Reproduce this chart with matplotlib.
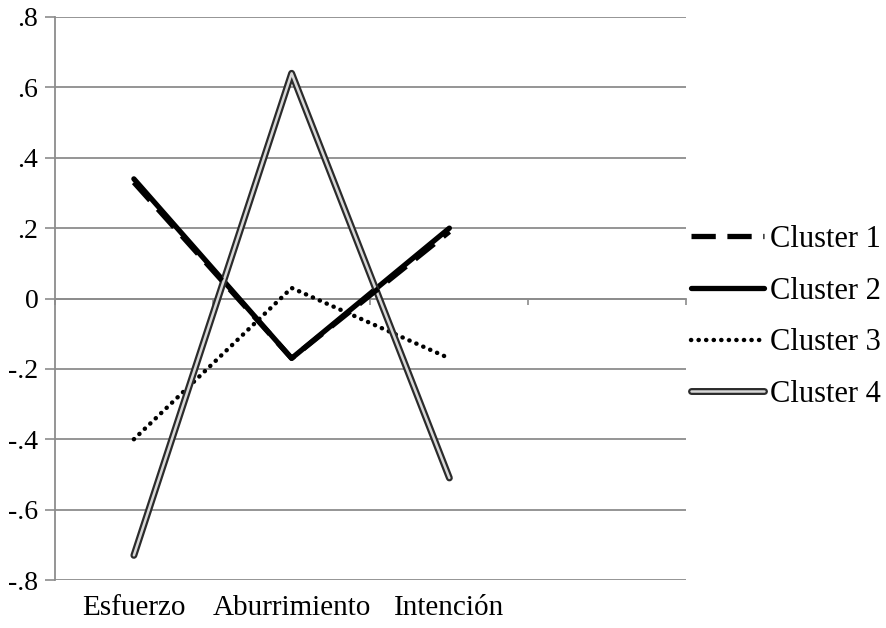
import matplotlib
matplotlib.use("Agg")
import matplotlib.pyplot as plt
import matplotlib.patheffects as pe
from matplotlib.transforms import blended_transform_factory

categories = ["Esfuerzo", "Aburrimiento", "Intención"]
cluster1 = [0.33, -0.17, 0.19]
cluster2 = [0.34, -0.17, 0.20]
cluster3 = [-0.40, 0.03, -0.17]
cluster4 = [-0.73, 0.64, -0.51]
yticks = [0.8, 0.6, 0.4, 0.2, 0.0, -0.2, -0.4, -0.6, -0.8]
ytick_labels = [".8", ".6", ".4", ".2", "0", "-.2", "-.4", "-.6", "-.8"]
n_slots = 4

plt.rcParams['font.family'] = ['Liberation Serif', 'DejaVu Serif']

fig = plt.figure(figsize=(8.86, 6.28), dpi=100)
ax = fig.add_axes([55/886, 1-580/628, (686-55)/886, (580-17)/628])

grid_c = "#8c8c8c"
ax.set_ylim(-0.8, 0.8)
ax.set_xlim(-0.5, n_slots - 0.5)
ax.set_yticks(yticks)
ax.set_yticklabels(ytick_labels, fontsize=20)
ax.yaxis.grid(True, color=grid_c, linewidth=1.3)
ax.set_axisbelow(True)
ax.tick_params(axis='y', direction='out', length=7, width=1.2, color=grid_c, pad=5)

for s in ['top', 'right']:
    ax.spines[s].set_visible(False)
ax.spines['left'].set_color(grid_c)
ax.spines['left'].set_linewidth(1.3)
ax.spines['bottom'].set_position(('data', 0))
ax.spines['bottom'].set_color(grid_c)
ax.spines['bottom'].set_linewidth(1.3)
ax.set_xticks([i - 0.5 for i in range(n_slots + 1)])
ax.set_xticklabels([""] * (n_slots + 1))
ax.tick_params(axis='x', direction='out', length=4, width=1.2, color=grid_c)

x = list(range(len(categories)))
trans = blended_transform_factory(ax.transData, ax.transAxes)
for xi, lab in zip(x, categories):
    ax.text(xi, -0.05, lab, transform=trans, ha='center', va='center', fontsize=21)

ax.plot(x, cluster1, color='black', linewidth=3.8, linestyle=(0, (4.6, 2.2)),
        dash_capstyle='butt', label="Cluster 1", zorder=4)
ax.plot(x, cluster2, color='black', linewidth=3.8, solid_capstyle='round',
        label="Cluster 2", zorder=3)
ax.plot(x, cluster3, color='black', linewidth=3.2, linestyle=(0, (0.05, 1.65)),
        dash_capstyle='round', label="Cluster 3", zorder=3)
ax.plot(x, cluster4, color='#d8d8d8', linewidth=1.8, solid_capstyle='round',
        solid_joinstyle='round', label="Cluster 4", zorder=3,
        path_effects=[pe.Stroke(linewidth=5.0, foreground='#2b2b2b'), pe.Normal()])

fig.legend(loc='center left', bbox_to_anchor=(691/886, 1-317/628), frameon=False,
           fontsize=22, handlelength=2.4, handletextpad=0.17, labelspacing=0.74,
           borderaxespad=0, borderpad=0)

fig.savefig("out.png", dpi=100)
